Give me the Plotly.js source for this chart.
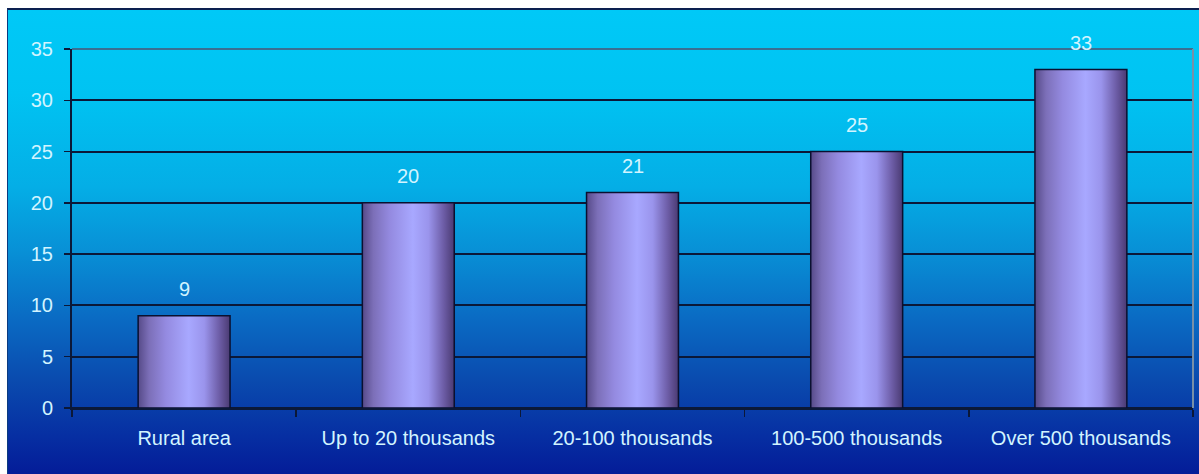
<!DOCTYPE html>
<html>
<head>
<meta charset="utf-8">
<script src="https://cdn.plot.ly/plotly-3.0.1.min.js"></script>
<style>
  html, body { margin: 0; padding: 0; background: #ffffff; width: 1199px; height: 474px; overflow: hidden; }
  #bg {
    position: absolute; left: 7px; top: 8px; width: 1192px; height: 466px;
    box-sizing: border-box; border-top: 2px solid #0c2050; border-left: 1px solid #0a3a80;
    background: linear-gradient(to bottom, #00c9f7 0%, #00c3f2 18%, #04aee6 38%, #0890d6 52%, #0a6cc4 66%, #0a4aae 80%, #062ea2 92%, #041c98 100%);
  }
  #chart { position: absolute; left: 0; top: 0; width: 1199px; height: 474px; }
</style>
</head>
<body>
<div id="bg"></div>
<div id="chart"></div>
<script>
const categories = ["Rural area", "Up to 20 thousands", "20-100 thousands", "100-500 thousands", "Over 500 thousands"];
const values = [9, 20, 21, 25, 33];
const yTicks = [0, 5, 10, 15, 20, 25, 30, 35];

const labelColor = "#d2f4ff";
const gridColor = "#0b1838";
const font = { family: "Liberation Sans, Arial, sans-serif", size: 20, color: labelColor };

const trace = {
  type: "bar",
  x: categories,
  y: values,
  marker: { color: "#9a94e8", line: { color: "#0a1030", width: 1.5 } },
  hoverinfo: "skip"
};

const annotations = categories.map((c, i) => ({
  x: c, y: values[i], xref: "x", yref: "y",
  text: String(values[i]), showarrow: false,
  yanchor: "middle", yshift: 27,
  font: font
}));

const layout = {
  width: 1199, height: 474,
  margin: { l: 72, r: 6, t: 49, b: 66, pad: 0 },
  paper_bgcolor: "rgba(0,0,0,0)",
  plot_bgcolor: "rgba(0,0,0,0)",
  font: font,
  showlegend: false,
  bargap: 0.59,
  xaxis: {
    type: "category",
    showgrid: false,
    showline: true, linecolor: gridColor, linewidth: 2,
    ticks: "outside", tickson: "boundaries", ticklen: 7, tickcolor: gridColor, tickwidth: 1.5,
    ticklabelstandoff: 11,
    tickfont: font,
    fixedrange: true
  },
  yaxis: {
    range: [0, 35],
    tickvals: yTicks,
    ticktext: yTicks.map(String),
    showgrid: true, gridcolor: gridColor, gridwidth: 2,
    zeroline: true, zerolinecolor: gridColor, zerolinewidth: 2,
    showline: true, linecolor: gridColor, linewidth: 2,
    ticks: "outside", ticklen: 6, tickcolor: gridColor, tickwidth: 1.5,
    ticklabelstandoff: 7,
    tickfont: font,
    fixedrange: true
  },
  shapes: [
    { type: "line", xref: "paper", yref: "paper", x0: 0, x1: 1, y0: 1, y1: 1, line: { color: "#3a6f92", width: 2 }, layer: "above" },
    { type: "line", xref: "paper", yref: "paper", x0: 1, x1: 1, y0: 0, y1: 1, line: { color: "#7890a8", width: 2 }, layer: "above" }
  ],
  annotations: annotations
};

Plotly.newPlot("chart", [trace], layout, { staticPlot: true, displayModeBar: false }).then(function (gd) {
  const svg = gd.querySelector("svg.main-svg");
  const ns = "http://www.w3.org/2000/svg";
  const defs = document.createElementNS(ns, "defs");
  const grad = document.createElementNS(ns, "linearGradient");
  grad.setAttribute("id", "barGrad");
  grad.setAttribute("x1", "0"); grad.setAttribute("y1", "0");
  grad.setAttribute("x2", "1"); grad.setAttribute("y2", "0");
  const stops = [
    [0, "#564a88"], [0.12, "#7c6fb8"], [0.3, "#948ae0"], [0.55, "#a8a8ff"],
    [0.72, "#9a94ec"], [0.88, "#6e5ea8"], [1, "#4a3a72"]
  ];
  stops.forEach(function (s) {
    const st = document.createElementNS(ns, "stop");
    st.setAttribute("offset", s[0]);
    st.setAttribute("stop-color", s[1]);
    grad.appendChild(st);
  });
  defs.appendChild(grad);
  svg.insertBefore(defs, svg.firstChild);
  gd.querySelectorAll(".bars .point path").forEach(function (p) {
    p.style.fill = "url(#barGrad)";
    p.style.fillOpacity = 1;
  });
});
</script>
</body>
</html>
